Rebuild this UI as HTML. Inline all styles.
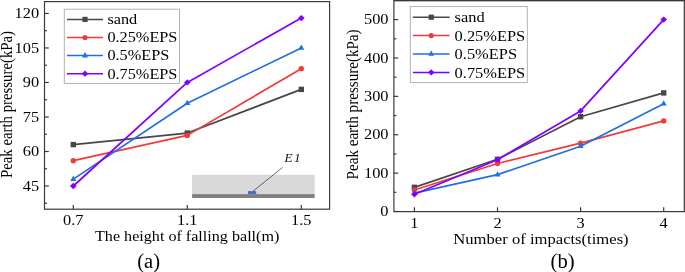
<!DOCTYPE html><html><head><meta charset="utf-8"><style>html,body{margin:0;padding:0;background:#fff;}svg{display:block;}text{font-family:"Liberation Serif", serif;}</style></head><body>
<svg width="685" height="272" viewBox="0 0 685 272" style="will-change:transform">
<rect width="685" height="272" fill="#fff"/>
<rect x="192.1" y="174.8" width="122.6" height="19.3" fill="#d9d9d9"/>
<rect x="192.1" y="194.1" width="122.6" height="3.9" fill="#808080"/>
<rect x="248" y="191.1" width="8.2" height="3.0" fill="#4472c4"/>
<line x1="252.9" y1="191.3" x2="282.6" y2="167.4" stroke="#444" stroke-width="0.8"/>
<text transform="translate(284.6,162.2) scale(1.08,1)" font-size="12.2" font-style="italic" fill="#111">E<tspan dx="1.2">1</tspan></text>
<polyline points="73.30,144.59 187.30,133.08 301.30,89.37" fill="none" stroke="#474747" stroke-width="1.7" stroke-linejoin="round"/>
<rect x="70.60" y="141.89" width="5.40" height="5.40" fill="#474747"/>
<rect x="184.60" y="130.38" width="5.40" height="5.40" fill="#474747"/>
<rect x="298.60" y="86.67" width="5.40" height="5.40" fill="#474747"/>
<polyline points="73.30,160.69 187.30,135.38 301.30,68.66" fill="none" stroke="#f23a3a" stroke-width="1.7" stroke-linejoin="round"/>
<circle cx="73.30" cy="160.69" r="2.70" fill="#f23a3a"/>
<circle cx="187.30" cy="135.38" r="2.70" fill="#f23a3a"/>
<circle cx="301.30" cy="68.66" r="2.70" fill="#f23a3a"/>
<polyline points="73.30,179.10 187.30,103.17 301.30,47.96" fill="none" stroke="#1f6fe6" stroke-width="1.7" stroke-linejoin="round"/>
<polygon points="73.30,175.60 76.30,180.95 70.30,180.95" fill="#1f6fe6"/>
<polygon points="187.30,99.67 190.30,105.02 184.30,105.02" fill="#1f6fe6"/>
<polygon points="301.30,44.46 304.30,49.81 298.30,49.81" fill="#1f6fe6"/>
<polyline points="73.30,186.00 187.30,82.47 301.30,18.05" fill="none" stroke="#8000ff" stroke-width="1.7" stroke-linejoin="round"/>
<polygon points="73.30,182.85 76.60,186.00 73.30,189.15 70.00,186.00" fill="#8000ff"/>
<polygon points="187.30,79.32 190.60,82.47 187.30,85.62 184.00,82.47" fill="#8000ff"/>
<polygon points="301.30,14.90 304.60,18.05 301.30,21.20 298.00,18.05" fill="#8000ff"/>
<rect x="44.5" y="1.6" width="285.1" height="207.6" fill="none" stroke="#3a3a3a" stroke-width="1.2"/>
<line x1="44.5" y1="186.00" x2="48.8" y2="186.00" stroke="#3a3a3a" stroke-width="1.2"/>
<line x1="44.5" y1="151.49" x2="48.8" y2="151.49" stroke="#3a3a3a" stroke-width="1.2"/>
<line x1="44.5" y1="116.98" x2="48.8" y2="116.98" stroke="#3a3a3a" stroke-width="1.2"/>
<line x1="44.5" y1="82.47" x2="48.8" y2="82.47" stroke="#3a3a3a" stroke-width="1.2"/>
<line x1="44.5" y1="47.96" x2="48.8" y2="47.96" stroke="#3a3a3a" stroke-width="1.2"/>
<line x1="44.5" y1="13.45" x2="48.8" y2="13.45" stroke="#3a3a3a" stroke-width="1.2"/>
<line x1="44.5" y1="203.26" x2="47.0" y2="203.26" stroke="#3a3a3a" stroke-width="1.2"/>
<line x1="44.5" y1="168.74" x2="47.0" y2="168.74" stroke="#3a3a3a" stroke-width="1.2"/>
<line x1="44.5" y1="134.23" x2="47.0" y2="134.23" stroke="#3a3a3a" stroke-width="1.2"/>
<line x1="44.5" y1="99.72" x2="47.0" y2="99.72" stroke="#3a3a3a" stroke-width="1.2"/>
<line x1="44.5" y1="65.21" x2="47.0" y2="65.21" stroke="#3a3a3a" stroke-width="1.2"/>
<line x1="44.5" y1="30.70" x2="47.0" y2="30.70" stroke="#3a3a3a" stroke-width="1.2"/>
<line x1="73.30" y1="209.2" x2="73.30" y2="204.89999999999998" stroke="#3a3a3a" stroke-width="1.2"/>
<line x1="187.30" y1="209.2" x2="187.30" y2="204.89999999999998" stroke="#3a3a3a" stroke-width="1.2"/>
<line x1="301.30" y1="209.2" x2="301.30" y2="204.89999999999998" stroke="#3a3a3a" stroke-width="1.2"/>
<text transform="translate(39.10,190.60) scale(1.12,1)" font-size="14.6" text-anchor="end" fill="#000">45</text>
<text transform="translate(39.10,156.09) scale(1.12,1)" font-size="14.6" text-anchor="end" fill="#000">60</text>
<text transform="translate(39.10,121.58) scale(1.12,1)" font-size="14.6" text-anchor="end" fill="#000">75</text>
<text transform="translate(39.10,87.07) scale(1.12,1)" font-size="14.6" text-anchor="end" fill="#000">90</text>
<text transform="translate(39.10,52.56) scale(1.12,1)" font-size="14.6" text-anchor="end" fill="#000">105</text>
<text transform="translate(39.10,18.05) scale(1.12,1)" font-size="14.6" text-anchor="end" fill="#000">120</text>
<text transform="translate(73.30,225.20) scale(1.12,1)" font-size="14.6" text-anchor="middle" fill="#000">0.7</text>
<text transform="translate(187.30,225.20) scale(1.12,1)" font-size="14.6" text-anchor="middle" fill="#000">1.1</text>
<text transform="translate(301.30,225.20) scale(1.12,1)" font-size="14.6" text-anchor="middle" fill="#000">1.5</text>
<rect x="64.3" y="9.2" width="115.2" height="74.2" fill="#fff" stroke="#aaa" stroke-width="0.9"/>
<line x1="67.0" y1="19.4" x2="103.0" y2="19.4" stroke="#474747" stroke-width="1.5"/>
<rect x="82.40" y="16.80" width="5.20" height="5.20" fill="#474747"/>
<text transform="translate(107.4,24.2) scale(1.07,1)" font-size="15.2" fill="#000">sand</text>
<line x1="67.0" y1="37.5" x2="103.0" y2="37.5" stroke="#f23a3a" stroke-width="1.5"/>
<circle cx="85.00" cy="37.50" r="2.60" fill="#f23a3a"/>
<text transform="translate(107.4,42.3) scale(1.07,1)" font-size="15.2" fill="#000">0.25%EPS</text>
<line x1="67.0" y1="55.6" x2="103.0" y2="55.6" stroke="#1f6fe6" stroke-width="1.5"/>
<polygon points="85.00,52.10 88.00,57.45 82.00,57.45" fill="#1f6fe6"/>
<text transform="translate(107.4,60.4) scale(1.07,1)" font-size="15.2" fill="#000">0.5%EPS</text>
<line x1="67.0" y1="73.7" x2="103.0" y2="73.7" stroke="#8000ff" stroke-width="1.5"/>
<polygon points="85.00,70.55 88.30,73.70 85.00,76.85 81.70,73.70" fill="#8000ff"/>
<text transform="translate(107.4,78.6) scale(1.07,1)" font-size="15.2" fill="#000">0.75%EPS</text>
<text transform="translate(11.7,178.0) scale(1.12,1) rotate(-90)" font-size="14.8" fill="#000">Peak earth pressure(kPa)</text>
<text transform="translate(95.0,240.8) scale(1.075,1)" font-size="15" fill="#000">The height of falling ball(m)</text>
<text transform="translate(137.2,267.6) scale(1.03,1)" font-size="20" fill="#000">(a)</text>
<polyline points="414.40,187.32 497.50,159.30 580.60,116.70 663.70,92.91" fill="none" stroke="#474747" stroke-width="1.7" stroke-linejoin="round"/>
<rect x="411.70" y="184.62" width="5.40" height="5.40" fill="#474747"/>
<rect x="494.80" y="156.60" width="5.40" height="5.40" fill="#474747"/>
<rect x="577.90" y="114.00" width="5.40" height="5.40" fill="#474747"/>
<rect x="661.00" y="90.21" width="5.40" height="5.40" fill="#474747"/>
<polyline points="414.40,190.01 497.50,163.53 580.60,143.18 663.70,120.92" fill="none" stroke="#f23a3a" stroke-width="1.7" stroke-linejoin="round"/>
<circle cx="414.40" cy="190.01" r="2.70" fill="#f23a3a"/>
<circle cx="497.50" cy="163.53" r="2.70" fill="#f23a3a"/>
<circle cx="580.60" cy="143.18" r="2.70" fill="#f23a3a"/>
<circle cx="663.70" cy="120.92" r="2.70" fill="#f23a3a"/>
<polyline points="414.40,193.08 497.50,174.66 580.60,146.25 663.70,103.65" fill="none" stroke="#1f6fe6" stroke-width="1.7" stroke-linejoin="round"/>
<polygon points="414.40,189.58 417.40,194.93 411.40,194.93" fill="#1f6fe6"/>
<polygon points="497.50,171.16 500.50,176.51 494.50,176.51" fill="#1f6fe6"/>
<polygon points="580.60,142.75 583.60,148.10 577.60,148.10" fill="#1f6fe6"/>
<polygon points="663.70,100.15 666.70,105.50 660.70,105.50" fill="#1f6fe6"/>
<polyline points="414.40,194.23 497.50,159.69 580.60,110.94 663.70,19.60" fill="none" stroke="#8000ff" stroke-width="1.7" stroke-linejoin="round"/>
<polygon points="414.40,191.08 417.70,194.23 414.40,197.38 411.10,194.23" fill="#8000ff"/>
<polygon points="497.50,156.54 500.80,159.69 497.50,162.84 494.20,159.69" fill="#8000ff"/>
<polygon points="580.60,107.79 583.90,110.94 580.60,114.09 577.30,110.94" fill="#8000ff"/>
<polygon points="663.70,16.45 667.00,19.60 663.70,22.75 660.40,19.60" fill="#8000ff"/>
<rect x="393.9" y="0.6" width="290.4" height="211.0" fill="none" stroke="#3a3a3a" stroke-width="1.2"/>
<line x1="393.9" y1="211.50" x2="398.2" y2="211.50" stroke="#3a3a3a" stroke-width="1.2"/>
<line x1="393.9" y1="173.12" x2="398.2" y2="173.12" stroke="#3a3a3a" stroke-width="1.2"/>
<line x1="393.9" y1="134.74" x2="398.2" y2="134.74" stroke="#3a3a3a" stroke-width="1.2"/>
<line x1="393.9" y1="96.36" x2="398.2" y2="96.36" stroke="#3a3a3a" stroke-width="1.2"/>
<line x1="393.9" y1="57.98" x2="398.2" y2="57.98" stroke="#3a3a3a" stroke-width="1.2"/>
<line x1="393.9" y1="19.60" x2="398.2" y2="19.60" stroke="#3a3a3a" stroke-width="1.2"/>
<line x1="393.9" y1="192.31" x2="396.4" y2="192.31" stroke="#3a3a3a" stroke-width="1.2"/>
<line x1="393.9" y1="153.93" x2="396.4" y2="153.93" stroke="#3a3a3a" stroke-width="1.2"/>
<line x1="393.9" y1="115.55" x2="396.4" y2="115.55" stroke="#3a3a3a" stroke-width="1.2"/>
<line x1="393.9" y1="77.17" x2="396.4" y2="77.17" stroke="#3a3a3a" stroke-width="1.2"/>
<line x1="393.9" y1="38.79" x2="396.4" y2="38.79" stroke="#3a3a3a" stroke-width="1.2"/>
<line x1="414.40" y1="211.6" x2="414.40" y2="207.29999999999998" stroke="#3a3a3a" stroke-width="1.2"/>
<line x1="497.50" y1="211.6" x2="497.50" y2="207.29999999999998" stroke="#3a3a3a" stroke-width="1.2"/>
<line x1="580.60" y1="211.6" x2="580.60" y2="207.29999999999998" stroke="#3a3a3a" stroke-width="1.2"/>
<line x1="663.70" y1="211.6" x2="663.70" y2="207.29999999999998" stroke="#3a3a3a" stroke-width="1.2"/>
<text transform="translate(388.50,216.10) scale(1.12,1)" font-size="14.6" text-anchor="end" fill="#000">0</text>
<text transform="translate(388.50,177.72) scale(1.12,1)" font-size="14.6" text-anchor="end" fill="#000">100</text>
<text transform="translate(388.50,139.34) scale(1.12,1)" font-size="14.6" text-anchor="end" fill="#000">200</text>
<text transform="translate(388.50,100.96) scale(1.12,1)" font-size="14.6" text-anchor="end" fill="#000">300</text>
<text transform="translate(388.50,62.58) scale(1.12,1)" font-size="14.6" text-anchor="end" fill="#000">400</text>
<text transform="translate(388.50,24.20) scale(1.12,1)" font-size="14.6" text-anchor="end" fill="#000">500</text>
<text transform="translate(414.40,227.60) scale(1.12,1)" font-size="14.6" text-anchor="middle" fill="#000">1</text>
<text transform="translate(497.50,227.60) scale(1.12,1)" font-size="14.6" text-anchor="middle" fill="#000">2</text>
<text transform="translate(580.60,227.60) scale(1.12,1)" font-size="14.6" text-anchor="middle" fill="#000">3</text>
<text transform="translate(663.70,227.60) scale(1.12,1)" font-size="14.6" text-anchor="middle" fill="#000">4</text>
<rect x="410.3" y="6.6" width="116.99999999999994" height="76.0" fill="#fff" stroke="#aaa" stroke-width="0.9"/>
<line x1="412.9" y1="17.2" x2="449.6" y2="17.2" stroke="#474747" stroke-width="1.5"/>
<rect x="428.65" y="14.60" width="5.20" height="5.20" fill="#474747"/>
<text transform="translate(454.6,22.4) scale(1.08,1)" font-size="15.2" fill="#000">sand</text>
<line x1="412.9" y1="35.6" x2="449.6" y2="35.6" stroke="#f23a3a" stroke-width="1.5"/>
<circle cx="431.25" cy="35.60" r="2.60" fill="#f23a3a"/>
<text transform="translate(454.6,40.8) scale(1.08,1)" font-size="15.2" fill="#000">0.25%EPS</text>
<line x1="412.9" y1="54.0" x2="449.6" y2="54.0" stroke="#1f6fe6" stroke-width="1.5"/>
<polygon points="431.25,50.50 434.25,55.85 428.25,55.85" fill="#1f6fe6"/>
<text transform="translate(454.6,59.2) scale(1.08,1)" font-size="15.2" fill="#000">0.5%EPS</text>
<line x1="412.9" y1="72.4" x2="449.6" y2="72.4" stroke="#8000ff" stroke-width="1.5"/>
<polygon points="431.25,69.25 434.55,72.40 431.25,75.55 427.95,72.40" fill="#8000ff"/>
<text transform="translate(454.6,77.6) scale(1.08,1)" font-size="15.2" fill="#000">0.75%EPS</text>
<text transform="translate(358.4,179.4) scale(1.1,1) rotate(-90)" font-size="15.1" fill="#000">Peak earth pressure(kPa)</text>
<text transform="translate(453.3,243.7) scale(1.108,1)" font-size="15" fill="#000">Number of impacts(times)</text>
<text transform="translate(550.6,267.6) scale(1.03,1)" font-size="20" fill="#000">(b)</text>
<rect x="393.9" y="0" width="290.4" height="1.2" fill="#3a3a3a"/>
</svg></body></html>
